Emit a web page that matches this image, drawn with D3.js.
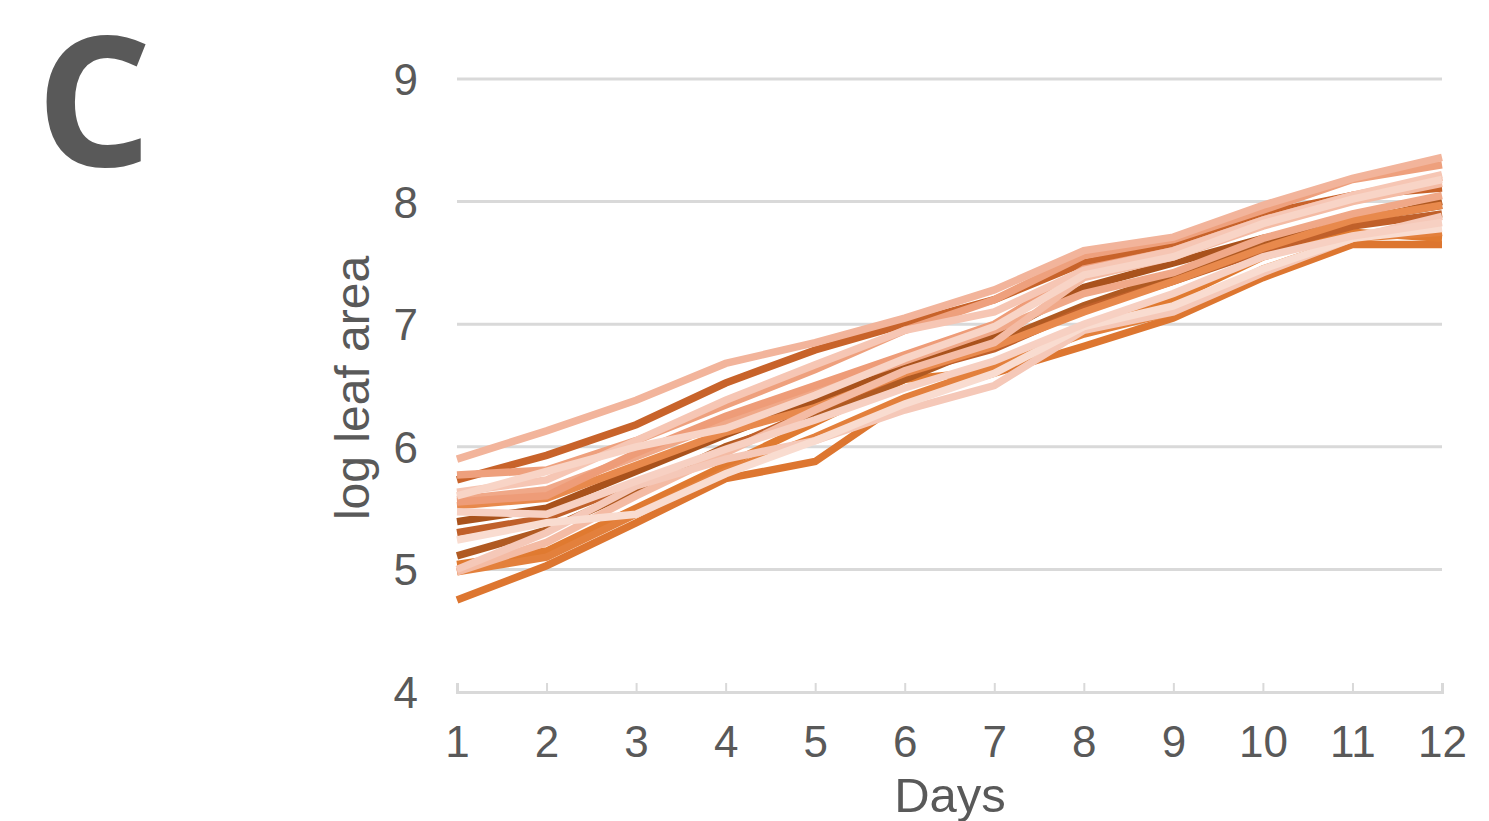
<!DOCTYPE html>
<html lang="en">
<head>
<meta charset="UTF-8">
<title>log leaf area</title>
<script src="https://cdn.jsdelivr.net/npm/d3@7"></script>
<style>
  body { margin: 0; background: #fff; }
  text { font-family: "Liberation Sans", Arial, sans-serif; fill: #595959; }
  text.panel { font-family: "Open Sans", sans-serif; font-weight: 700; }
</style>
</head>
<body>
<div id="chart"></div>
<script>
const days = [1, 2, 3, 4, 5, 6, 7, 8, 9, 10, 11, 12];
const yTicks = [4, 5, 6, 7, 8, 9];

const s01 = [5.90, 6.13, 6.38, 6.68, 6.85, 7.05, 7.28, 7.60, 7.71, 7.97, 8.19, 8.36];
const s02 = [5.73, 5.93, 6.18, 6.52, 6.79, 7.00, 7.20, 7.50, 7.65, 7.90, 8.05, 8.11];
const s03 = [5.77, 5.81, 6.05, 6.34, 6.63, 6.95, 7.20, 7.56, 7.69, 7.93, 8.18, 8.30];
const s04 = [5.63, 5.73, 6.05, 6.38, 6.67, 6.95, 7.10, 7.44, 7.60, 7.85, 8.05, 8.22];
const s05 = [5.57, 5.65, 5.92, 6.20, 6.45, 6.70, 6.95, 7.25, 7.42, 7.70, 7.90, 8.05];
const s06 = [5.52, 5.58, 5.85, 6.12, 6.32, 6.60, 6.82, 7.10, 7.35, 7.62, 7.85, 7.97];
const s07 = [5.47, 5.45, 5.72, 5.98, 6.22, 6.48, 6.70, 7.00, 7.25, 7.55, 7.72, 7.83];
const s08 = [5.39, 5.50, 5.80, 6.10, 6.38, 6.65, 6.90, 7.30, 7.50, 7.70, 7.85, 7.97];
const s09 = [5.30, 5.42, 5.70, 5.98, 6.30, 6.60, 6.80, 7.12, 7.35, 7.60, 7.80, 7.90];
const s10 = [5.24, 5.38, 5.45, 5.78, 6.05, 6.35, 6.60, 6.98, 7.15, 7.45, 7.70, 7.78];
const s11 = [5.11, 5.32, 5.65, 6.00, 6.25, 6.55, 6.85, 7.15, 7.40, 7.65, 7.82, 8.00];
const s12 = [5.04, 5.15, 5.50, 5.85, 6.20, 6.55, 6.62, 6.95, 7.20, 7.55, 7.75, 7.70];
const s13 = [4.98, 5.22, 5.60, 5.95, 6.30, 6.62, 6.85, 7.38, 7.55, 7.80, 8.00, 8.15];
const s14 = [4.75, 5.03, 5.38, 5.74, 5.88, 6.38, 6.60, 6.82, 7.05, 7.38, 7.65, 7.65];
const s15 = [4.98, 5.10, 5.45, 5.80, 6.08, 6.40, 6.65, 6.92, 7.10, 7.45, 7.70, 7.75];
const s16 = [5.00, 5.30, 5.68, 5.90, 6.05, 6.30, 6.50, 6.95, 7.10, 7.42, 7.70, 7.88];
const s17 = [5.55, 5.60, 5.95, 6.25, 6.50, 6.75, 7.00, 7.45, 7.60, 7.85, 8.05, 8.20];
const s18 = [5.60, 5.80, 6.00, 6.15, 6.42, 6.72, 6.98, 7.40, 7.55, 7.82, 8.02, 8.18];

const seriesList = [s14, s12, s15, s11, s08, s09, s02, s06, s03, s05, s17, s13, s01, s16, s04, s10, s18, s07];
const colors = ["#dd7630", "#e07a30", "#e3803c", "#b05a22", "#a9521c", "#c0602a", "#c8632a", "#e8894c",
                "#eea07d", "#f0a888", "#ee9c78", "#f4bba4", "#f2b49b", "#f5c8b8", "#f6c6b4", "#f9dcd0",
                "#f8d4c6", "#f7d0c2"];

const w = 1489, h = 821;
const svg = d3.select("#chart").append("svg").attr("width", w).attr("height", h);

const xScale = d3.scaleLinear().domain([1, 12]).range([457, 1442]);
const yScale = d3.scaleLinear().domain([4, 9]).range([692, 79]);

// gridlines
svg.append("g")
   .selectAll("line")
   .data(yTicks.slice(1))
   .join("line")
   .attr("x1", xScale(1)).attr("x2", xScale(12))
   .attr("y1", d => yScale(d)).attr("y2", d => yScale(d))
   .attr("stroke", "#d9d9d9").attr("stroke-width", 3);

// y labels
svg.append("g")
   .selectAll("text")
   .data(yTicks)
   .join("text")
   .attr("x", 418)
   .attr("y", d => yScale(d) + 16)
   .attr("text-anchor", "end")
   .attr("font-size", 44)
   .text(d => d);

// x axis
const xAxis = d3.axisBottom(xScale).tickValues(days).tickSize(-9).tickFormat(d3.format("d"));
const gx = svg.append("g")
   .attr("transform", `translate(0, ${yScale(4)})`)
   .call(xAxis);
gx.select(".domain").attr("stroke", "#d9d9d9").attr("stroke-width", 3);
gx.selectAll(".tick line").attr("stroke", "#d9d9d9").attr("stroke-width", 2);
gx.selectAll(".tick text").attr("font-size", 44).attr("fill", "#595959")
  .attr("dy", null).attr("y", 65);

// lines
const line = d3.line().x((d, i) => xScale(days[i])).y(d => yScale(d));
svg.append("g")
   .selectAll("path")
   .data(seriesList)
   .join("path")
   .attr("d", line)
   .attr("fill", "none")
   .attr("stroke", (d, i) => colors[i])
   .attr("stroke-width", 7.5);

// axis titles
svg.append("text")
   .attr("x", 950).attr("y", 812)
   .attr("text-anchor", "middle")
   .attr("font-size", 49)
   .text("Days");

svg.append("text")
   .attr("transform", "translate(369, 388) rotate(-90)")
   .attr("text-anchor", "middle")
   .attr("font-size", 48)
   .text("log leaf area");

// panel letter
svg.append("text")
   .attr("class", "panel")
   .attr("x", 36).attr("y", 166)
   .attr("font-size", 182)
   .text("C");
</script>
</body>
</html>
